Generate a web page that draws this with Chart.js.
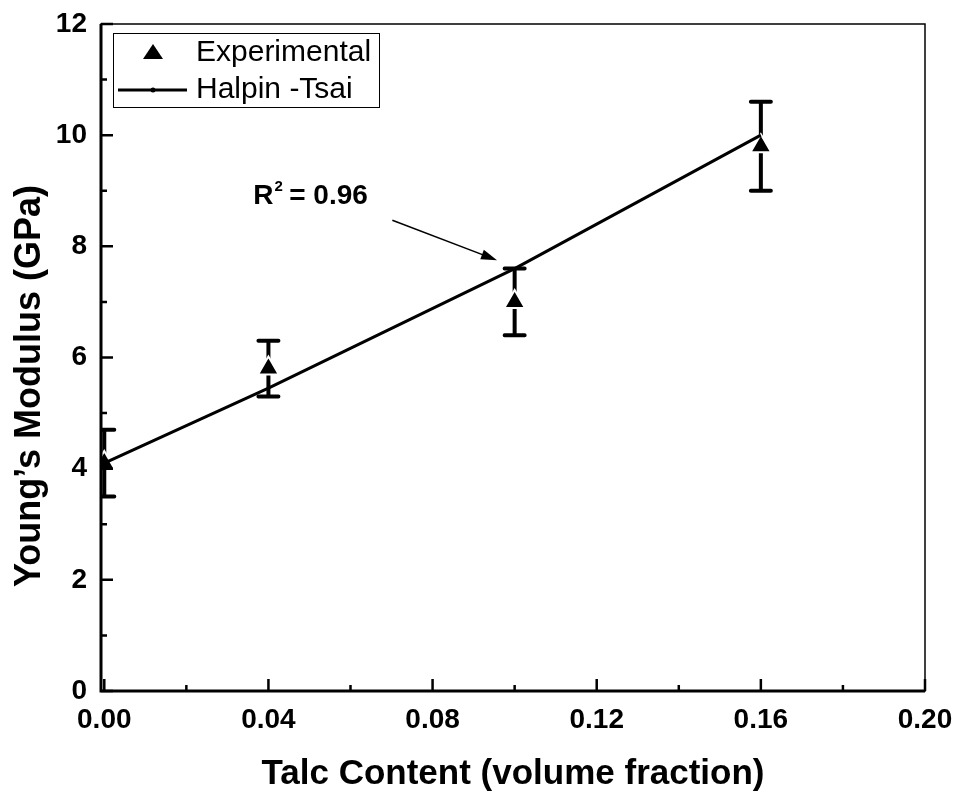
<!DOCTYPE html>
<html>
<head>
<meta charset="utf-8">
<script src="https://cdn.jsdelivr.net/npm/chart.js@4.4.1/dist/chart.umd.min.js"></script>
<style>
  html, body { margin: 0; padding: 0; background: #fff; }
  #wrap { width: 958px; height: 800px; }
</style>
</head>
<body>
<div id="wrap"><canvas id="modulusChart" width="958" height="800"></canvas></div>
<script>
// data
const expX = [0, 0.04, 0.10, 0.16];
const expY = [4.1, 5.8, 7.0, 9.8];
const errLow = [3.5, 5.3, 6.4, 9.0];
const errHigh = [4.7, 6.3, 7.6, 10.6];
const htX = [0, 0.04, 0.10, 0.16];
const htY = [4.1, 5.45, 7.6, 10.0];
const xTicks = [0, 0.04, 0.08, 0.12, 0.16, 0.20];
const yTicks = [0, 2, 4, 6, 8, 10, 12];
const xMinor = [0.02, 0.06, 0.10, 0.14, 0.18];
const yMinor = [1, 3, 5, 7, 9, 11];

// annotation anchor (data space)
const rLabelAt = { x: 0.0363, y: 8.77 };
const arrowFrom = { x: 0.0702, y: 8.47 };
const arrowTo = { x: 0.0957, y: 7.75 };

const FONT = "'Liberation Sans', Arial, sans-serif";

// error bars drawn under the markers, clipped to the plot box
const errorBars = {
  id: 'errorBars',
  beforeDatasetsDraw(chart) {
    const { ctx, chartArea: a, scales: { x, y } } = chart;
    ctx.save();
    ctx.beginPath();
    ctx.rect(a.left, a.top, a.right - a.left, a.bottom - a.top);
    ctx.clip();
    ctx.strokeStyle = '#000';
    ctx.lineWidth = 4;
    ctx.lineCap = 'round';
    expX.forEach((xv, i) => {
      const px = x.getPixelForValue(xv);
      const lo = y.getPixelForValue(errLow[i]);
      const hi = y.getPixelForValue(errHigh[i]);
      ctx.beginPath();
      ctx.moveTo(px, lo);
      ctx.lineTo(px, hi);
      ctx.moveTo(px - 10, lo);
      ctx.lineTo(px + 10, lo);
      ctx.moveTo(px - 10, hi);
      ctx.lineTo(px + 10, hi);
      ctx.stroke();
    });
    ctx.restore();
  }
};

// frame, inward ticks, legend, y title and the R^2 note
const decorations = {
  id: 'decorations',
  afterDraw(chart) {
    const { ctx, chartArea: a, scales: { x, y } } = chart;
    ctx.save();
    ctx.strokeStyle = '#000';
    ctx.fillStyle = '#000';

    // thin box
    ctx.lineWidth = 1.5;
    ctx.strokeRect(a.left, a.top, a.right - a.left, a.bottom - a.top);
    // heavy left and bottom axes
    ctx.lineWidth = 3;
    ctx.beginPath();
    ctx.moveTo(a.left, a.top);
    ctx.lineTo(a.left, a.bottom);
    ctx.lineTo(a.right, a.bottom);
    ctx.stroke();

    // ticks
    ctx.lineWidth = 2.5;
    ctx.beginPath();
    xTicks.forEach(v => {
      const px = x.getPixelForValue(v);
      ctx.moveTo(px, a.bottom);
      ctx.lineTo(px, a.bottom - 12);
    });
    xMinor.forEach(v => {
      const px = x.getPixelForValue(v);
      ctx.moveTo(px, a.bottom);
      ctx.lineTo(px, a.bottom - 6);
    });
    yTicks.forEach(v => {
      const py = y.getPixelForValue(v);
      ctx.moveTo(a.left, py);
      ctx.lineTo(a.left + 12, py);
    });
    yMinor.forEach(v => {
      const py = y.getPixelForValue(v);
      ctx.moveTo(a.left, py);
      ctx.lineTo(a.left + 6, py);
    });
    ctx.stroke();

    // y axis title, sits a little below the axis middle
    ctx.save();
    ctx.translate(30, 386);
    ctx.rotate(-Math.PI / 2);
    ctx.font = 'bold 36px ' + FONT;
    ctx.textAlign = 'center';
    ctx.textBaseline = 'middle';
    ctx.fillText('Young\u2019s Modulus (GPa)', 0, 0);
    ctx.restore();

    // legend box
    ctx.lineWidth = 1;
    ctx.strokeRect(113.5, 33.5, 266, 74);
    // triangle marker
    ctx.beginPath();
    ctx.moveTo(153, 44);
    ctx.lineTo(163, 59);
    ctx.lineTo(143, 59);
    ctx.closePath();
    ctx.fill();
    // line + dot
    ctx.lineWidth = 3;
    ctx.beginPath();
    ctx.moveTo(118, 90);
    ctx.lineTo(187, 90);
    ctx.stroke();
    ctx.beginPath();
    ctx.arc(153, 90, 2.5, 0, Math.PI * 2);
    ctx.fill();
    ctx.font = '30px ' + FONT;
    ctx.textBaseline = 'middle';
    ctx.textAlign = 'left';
    ctx.fillText('Experimental', 196, 53);
    ctx.fillText('Halpin -Tsai', 196, 90);

    // R^2 label
    const lx = x.getPixelForValue(rLabelAt.x);
    const ly = y.getPixelForValue(rLabelAt.y);
    ctx.textBaseline = 'alphabetic';
    ctx.font = 'bold 28px ' + FONT;
    ctx.fillText('R', lx, ly);
    const rw = ctx.measureText('R').width;
    ctx.font = 'bold 15px ' + FONT;
    ctx.fillText('2', lx + rw + 1, ly - 13);
    ctx.font = 'bold 28px ' + FONT;
    ctx.fillText(' = 0.96', lx + rw + 8, ly);

    // arrow
    const x0 = x.getPixelForValue(arrowFrom.x), y0 = y.getPixelForValue(arrowFrom.y);
    const x1 = x.getPixelForValue(arrowTo.x), y1 = y.getPixelForValue(arrowTo.y);
    const ang = Math.atan2(y1 - y0, x1 - x0);
    ctx.lineWidth = 1.5;
    ctx.beginPath();
    ctx.moveTo(x0, y0);
    ctx.lineTo(x1 - 10 * Math.cos(ang), y1 - 10 * Math.sin(ang));
    ctx.stroke();
    ctx.beginPath();
    ctx.moveTo(x1, y1);
    ctx.lineTo(x1 - 16 * Math.cos(ang) + 5 * Math.sin(ang), y1 - 16 * Math.sin(ang) - 5 * Math.cos(ang));
    ctx.lineTo(x1 - 16 * Math.cos(ang) - 5 * Math.sin(ang), y1 - 16 * Math.sin(ang) + 5 * Math.cos(ang));
    ctx.closePath();
    ctx.fill();
    ctx.restore();
  }
};

Chart.defaults.color = '#000';
Chart.defaults.font.family = FONT;

const ctx = document.getElementById('modulusChart').getContext('2d');
new Chart(ctx, {
  type: 'scatter',
  data: {
    datasets: [
      {
        label: 'Halpin -Tsai',
        data: htX.map((v, i) => ({ x: v, y: htY[i] })),
        showLine: true,
        borderColor: '#000',
        borderWidth: 3,
        pointRadius: 0,
        clip: 0
      },
      {
        label: 'Experimental',
        data: expX.map((v, i) => ({ x: v, y: expY[i] })),
        pointStyle: 'triangle',
        pointRadius: 12,
        backgroundColor: '#000',
        borderColor: '#fff',
        borderWidth: 2,
        clip: 0
      }
    ]
  },
  options: {
    responsive: false,
    animation: false,
    layout: { padding: { top: 24, right: 33, left: 0, bottom: 0 } },
    plugins: {
      legend: { display: false },
      tooltip: { enabled: false }
    },
    scales: {
      x: {
        type: 'linear',
        min: -0.0008,
        max: 0.20,
        afterBuildTicks: s => { s.ticks = xTicks.map(v => ({ value: v })); },
        afterFit: s => { s.height = 109; s.paddingLeft = 0; s.paddingRight = 0; },
        grid: { display: false, drawTicks: false },
        border: { display: false },
        ticks: {
          padding: 12,
          maxRotation: 0,
          font: { size: 28, weight: 'bold' },
          callback: v => v.toFixed(2)
        },
        title: {
          display: true,
          text: 'Talc Content (volume fraction)',
          font: { size: 35, weight: 'bold' },
          padding: { top: 0, bottom: 5 }
        }
      },
      y: {
        min: 0,
        max: 12,
        afterBuildTicks: s => { s.ticks = yTicks.map(v => ({ value: v })); },
        afterFit: s => { s.width = 101; s.paddingTop = 0; s.paddingBottom = 0; },
        grid: { display: false, drawTicks: false },
        border: { display: false },
        ticks: {
          padding: 14,
          font: { size: 28, weight: 'bold' },
          callback: v => String(v)
        }
      }
    }
  },
  plugins: [errorBars, decorations]
});
</script>
</body>
</html>
